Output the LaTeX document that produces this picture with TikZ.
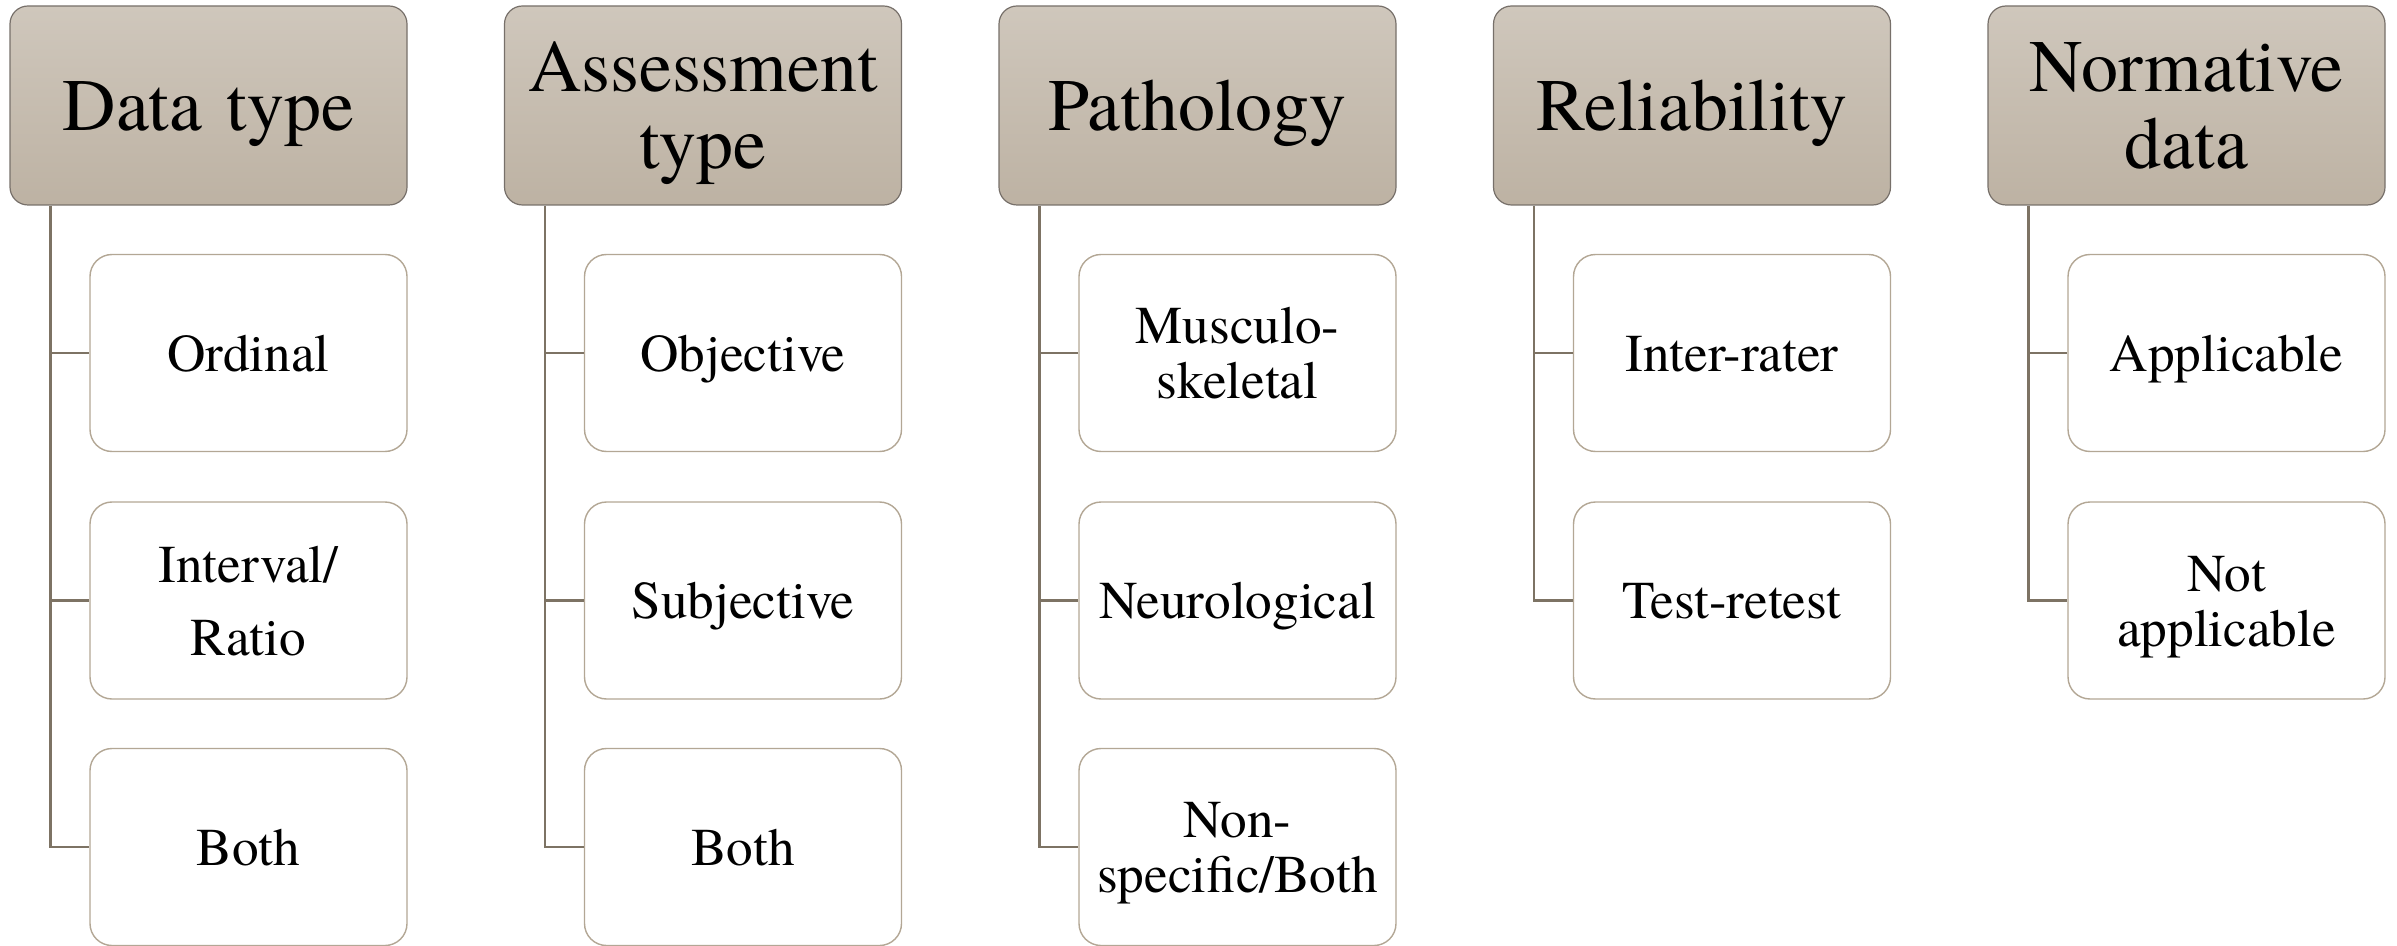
\documentclass[tikz,border=0pt]{standalone}
\usepackage{fontspec}
\setmainfont{texgyretermes}[Extension=.otf, UprightFont=*-regular, BoldFont=*-bold, ItalicFont=*-italic]
\definecolor{hdtop}{HTML}{CFC7BC}
\definecolor{hdbot}{HTML}{BDB2A3}
\definecolor{hdborder}{HTML}{77706A}
\definecolor{conn}{HTML}{7D7364}
\definecolor{chborder}{HTML}{B3A795}
\begin{document}
\begin{tikzpicture}[x=0.5pt,y=-0.5pt,
  header/.style={draw=hdborder, line width=0.6pt, rounded corners=9pt,
    top color=hdtop, bottom color=hdbot, minimum width=198.5pt, minimum height=99.5pt,
    text width=190pt, align=center, inner sep=0pt,
    text height=25pt, text depth=0pt,
    font=\fontsize{37}{38.5}\selectfont},
  child/.style={draw=chborder, line width=0.7pt, rounded corners=11pt, fill=white,
    minimum width=158.5pt, minimum height=98.5pt,
    text width=152pt, align=center, inner sep=0pt,
    text height=18.3pt, text depth=0pt,
    font=\fontsize{26.6}{27.6}\selectfont},
  twoline/.style={text depth=27.6pt},
  twohead/.style={text depth=38.5pt},
  link/.style={draw=conn, line width=1.3pt}]
\useasboundingbox (0,0) rectangle (2397,946);
\foreach \i/\hname/\hsty/\htxt in {0/h1/header/{Data type},1/h2/twohead/{Assessment\\type},2/h3/header/{Pathology},3/h4/header/{Reliability},4/h5/twohead/{Normative\\data}}{
  \node[header,\hsty] (\hname) at ({208.5+494.5*\i},105.5) {\htxt};
}
\node[child] (a1) at (248.5,353) {Ordinal};
\node[child, text depth=36.6pt] (a2) at (248.5,600.5) {Interval/\\[9pt]Ratio};
\node[child] (a3) at (248.5,847) {Both};
\node[child] (b1) at (743,353) {Objective};
\node[child] (b2) at (743,600.5) {Subjective};
\node[child] (b3) at (743,847) {Both};
\node[child, twoline] (c1) at (1237.5,353) {Musculo-\\skeletal};
\node[child] (c2) at (1237.5,600.5) {Neurological};
\node[child, twoline] (c3) at (1237.5,847) {Non-\\specific/Both};
\node[child] (d1) at (1732,353) {Inter-rater};
\node[child] (d2) at (1732,600.5) {Test-retest};
\node[child] (e1) at (2226.5,353) {Applicable};
\node[child, twoline] (e2) at (2226.5,600.5) {Not\\applicable};
\path[link] ([xshift=20.5pt]h1.south west) |- (a1.west)
            ([xshift=20.5pt]h1.south west) |- (a2.west)
            ([xshift=20.5pt]h1.south west) |- (a3.west);
\path[link] ([xshift=20.5pt]h2.south west) |- (b1.west)
            ([xshift=20.5pt]h2.south west) |- (b2.west)
            ([xshift=20.5pt]h2.south west) |- (b3.west);
\path[link] ([xshift=20.5pt]h3.south west) |- (c1.west)
            ([xshift=20.5pt]h3.south west) |- (c2.west)
            ([xshift=20.5pt]h3.south west) |- (c3.west);
\path[link] ([xshift=20.5pt]h4.south west) |- (d1.west)
            ([xshift=20.5pt]h4.south west) |- (d2.west);
\path[link] ([xshift=20.5pt]h5.south west) |- (e1.west)
            ([xshift=20.5pt]h5.south west) |- (e2.west);
\end{tikzpicture}
\end{document}
